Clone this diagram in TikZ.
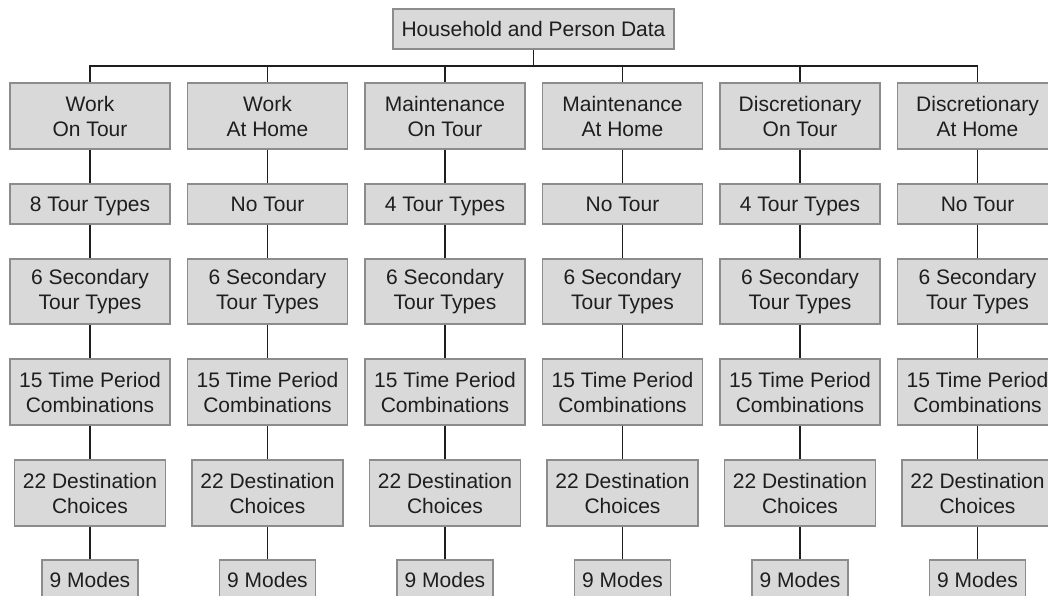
\documentclass[tikz,border=0pt]{standalone}
\usepackage{fontspec}
\setmainfont{Liberation Sans}
\definecolor{boxfill}{HTML}{D9D9D9}
\definecolor{boxline}{HTML}{8C8C8C}
\definecolor{inkgray}{HTML}{1E1E1E}
\begin{document}
\begin{tikzpicture}[x=1pt,y=1pt,
    box/.style={draw=boxline, fill=boxfill, line width=1.3pt, text=inkgray,
        align=center, inner sep=0pt, minimum width=160pt, minimum height=66pt,
        font=\fontsize{21}{25}\selectfont},
    oneline/.style={align=none, minimum height=40pt, text height=15pt, text depth=0pt},
    link/.style={draw=inkgray, line width=1.4pt}]

% page
    \clip (0,0) rectangle (1048,-596);

% root
    \node[box, oneline, minimum width=281pt] (hh) at (533.5,-29) {Household and Person Data};

% columns
    \foreach \i/\head/\kind in {1/{Work\\On Tour}/{8 Tour Types},
                               2/{Work\\At Home}/{No Tour},
                               3/{Maintenance\\On Tour}/{4 Tour Types},
                               4/{Maintenance\\At Home}/{No Tour},
                               5/{Discretionary\\On Tour}/{4 Tour Types},
                               6/{Discretionary\\At Home}/{No Tour}}{
        \pgfmathsetmacro\cx{90+177.5*(\i-1)}
        \coordinate (bus\i) at (\cx,-66);
        \node[box] (head\i) at (\cx,-116) {\head};
        \node[box, oneline] (kind\i) at (\cx,-204) {\kind};
        \node[box, minimum height=65pt] (sec\i) at (\cx,-291.5) {6 Secondary\\Tour Types};
        \node[box] (time\i) at (\cx,-392) {15 Time Period\\Combinations};
        \node[box, minimum width=151pt] (dest\i) at (\cx,-493) {22 Destination\\Choices};
        \node[box, oneline, minimum width=96pt] (mode\i) at (\cx,-580) {9 Modes};
        \draw[link] (head\i) -- (kind\i);
        \draw[link] (kind\i) -- (sec\i);
        \draw[link] (sec\i) -- (time\i);
        \draw[link] (time\i) -- (dest\i);
        \draw[link] (dest\i) -- (mode\i);
    }

% bus
    \draw[link] (hh) -- (hh |- bus1);
    \draw[link] (head1) |- (bus6) -- (head6);
    \foreach \i in {2,...,5}{
        \draw[link] (bus\i) -- (head\i);
    }
\end{tikzpicture}
\end{document}
